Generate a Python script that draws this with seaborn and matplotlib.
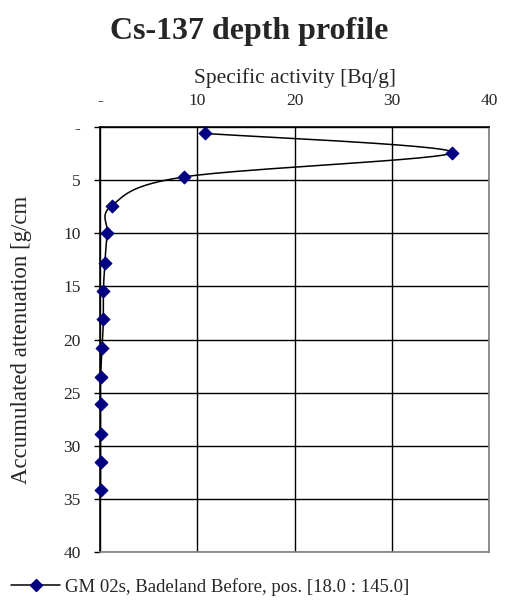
import numpy as np
import matplotlib
matplotlib.use("Agg")
import matplotlib.pyplot as plt
import seaborn as sns

# Cs-137 profile
depth = [0.6, 2.4, 4.7, 7.4, 10.0, 12.8, 15.4, 18.1, 20.8, 23.5, 26.1, 28.9, 31.5, 34.2]
activity = [10.8, 36.2, 8.6, 1.2, 0.75, 0.5, 0.35, 0.35, 0.2, 0.05, 0.05, 0.05, 0.05, 0.05]
series_name = "GM 02s, Badeland Before, pos. [18.0 : 145.0]"
x_ticks = [0, 10, 20, 30, 40]
y_ticks = [0, 5, 10, 15, 20, 25, 30, 35, 40]


def smooth(xs, ys, n=30):
    # Excel-style smoothed line: Catmull-Rom converted to cubic Bezier
    p = np.column_stack([xs, ys]).astype(float)
    p = np.vstack([p[0], p, p[-1]])
    out = []
    t = np.linspace(0, 1, n)[:, None]
    for i in range(1, len(p) - 2):
        p0, p1, p2, p3 = p[i - 1], p[i], p[i + 1], p[i + 2]
        c1 = p1 + (p2 - p0) / 6
        c2 = p2 - (p3 - p1) / 6
        seg = ((1 - t) ** 3) * p1 + 3 * ((1 - t) ** 2) * t * c1 + 3 * (1 - t) * t ** 2 * c2 + t ** 3 * p2
        out.append(seg)
    out = np.vstack(out)
    return out[:, 0], out[:, 1]


sns.set_style("white")
plt.rcParams["font.family"] = ["Liberation Serif", "DejaVu Serif"]

fig = plt.figure(figsize=(5.09, 6.0), dpi=100)
ax = fig.add_axes([0.1965, 0.08, 0.7642, 0.7083])

sx, sy = smooth(activity, depth)
ax.plot(sx, sy, color="black", lw=1.1, zorder=3)
sns.scatterplot(x=activity, y=depth, marker="D", s=45, color="#000080",
                edgecolor="#000080", ax=ax, zorder=4, clip_on=False)

ax.set_xlim(0, 40)
ax.set_ylim(40, 0)
ax.set_xticks(x_ticks)
ax.set_yticks(y_ticks)
ax.set_xticklabels(["-" if v == 0 else str(v) for v in x_ticks])
ax.set_yticklabels(["-" if v == 0 else str(v) for v in y_ticks])
ax.xaxis.tick_top()
ax.xaxis.set_label_position("top")
ax.tick_params(axis="x", length=0, pad=13, labelsize=12.5)
ax.tick_params(axis="y", direction="out", length=4, width=1, color="black",
               pad=10, labelsize=12.5, left=True)
ax.grid(True, color="black", lw=1)
for side in ["top", "left"]:
    ax.spines[side].set_color("black")
    ax.spines[side].set_linewidth(1.2)
for side in ["right", "bottom"]:
    ax.spines[side].set_color("#808080")
    ax.spines[side].set_linewidth(1.2)

ax.set_xlabel("Specific activity [Bq/g]", fontsize=15.5, labelpad=7)
fig.text(0.043, 0.433, "Accumulated attenuation [g/cm", rotation=90,
         fontsize=16.5, ha="center", va="center")
fig.text(0.49, 0.948, "Cs-137 depth profile", fontsize=23, fontweight="bold",
         ha="center", va="center")

handle = plt.Line2D([], [], color="black", lw=1.1, marker="D", markersize=6.5,
                    markerfacecolor="#000080", markeredgecolor="#000080")
fig.legend([handle], [series_name], loc="center left", bbox_to_anchor=(0.022, 0.022),
           frameon=False, fontsize=13.5, handlelength=2.6, handletextpad=0.25,
           borderaxespad=0, borderpad=0)

fig.savefig("out.png", dpi=100)
